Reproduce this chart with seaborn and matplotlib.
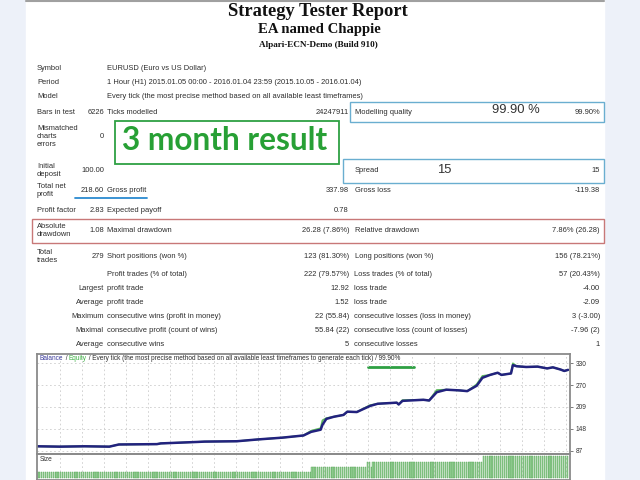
import numpy as np
import pandas as pd
import seaborn as sns
import matplotlib.pyplot as plt
from matplotlib.patches import Rectangle

# balance curve (trade number vs balance)
trade_no = [0, 12, 25, 38, 43, 63, 65, 84, 88, 105, 116, 129, 140, 144, 149, 150,
            152, 156, 161, 163, 168, 175, 179, 189, 190, 192, 203, 206, 210, 215,
            222, 226, 229, 231, 234, 238, 242, 244, 249, 250, 252, 257, 263, 268,
            271, 275, 277, 279]
balance = [100, 99, 100, 99, 105, 106, 108, 112, 113, 114, 119, 124, 130, 140, 146, 160,
           176, 182, 187, 196, 195, 212, 218, 221, 216, 226, 229, 227, 250, 257,
           255, 253, 262, 268, 290, 298, 304, 298, 302, 325, 322, 320, 321, 316,
           319, 313, 309, 312]
# equity runs on top of balance, with small spikes at the jumps
equity = [100, 99, 100, 99, 105, 106, 108, 112, 113, 114, 119, 124, 130, 143, 150, 172,
          178, 182, 187, 196, 195, 214, 218, 221, 216, 228, 229, 227, 256, 257,
          255, 253, 264, 272, 295, 298, 304, 298, 302, 330, 322, 320, 321, 316,
          319, 313, 309, 312]

# lot size per trade (segments)
lot_levels = [0.01, 0.02, 0.03, 0.02, 0.03, 0.04]
lot_counts = [144, 29, 2, 1, 58, 45]

balance_ticks = [87, 148, 209, 270, 330]

# report table
info_rows = [
    ("Symbol", "EURUSD (Euro vs US Dollar)", 69),
    ("Period", "1 Hour (H1) 2015.01.05 00:00 - 2016.01.04 23:59 (2015.10.05 - 2016.01.04)", 83),
    ("Model", "Every tick (the most precise method based on all available least timeframes)", 97),
]
stat_rows = [
    # label, value, name, value, name, value, y
    ("Bars in test", "6226", "Ticks modelled", "24247911", "Modelling quality", "99.90%", 112),
    ("Mismatched\ncharts\nerrors", "0", "", "", "", "", 136),
    ("Initial\ndeposit", "100.00", "", "", "Spread", "15", 170),
    ("Total net\nprofit", "218.60", "Gross profit", "337.98", "Gross loss", "-119.38", 191),
    ("Profit factor", "2.83", "Expected payoff", "0.78", "", "", 211),
    ("Absolute\ndrawdown", "1.08", "Maximal drawdown", "26.28 (7.86%)", "Relative drawdown", "7.86% (26.28)", 231),
    ("Total\ntrades", "279", "Short positions (won %)", "123 (81.30%)", "Long positions (won %)", "156 (78.21%)", 256),
]
trade_rows = [
    ("", "Profit trades (% of total)", "222 (79.57%)", "Loss trades (% of total)", "57 (20.43%)", 274),
    ("Largest", "profit trade", "12.92", "loss trade", "-4.00", 288),
    ("Average", "profit trade", "1.52", "loss trade", "-2.09", 302),
    ("Maximum", "consecutive wins (profit in money)", "22 (55.84)", "consecutive losses (loss in money)", "3 (-3.00)", 316),
    ("Maximal", "consecutive profit (count of wins)", "55.84 (22)", "consecutive loss (count of losses)", "-7.96 (2)", 330),
    ("Average", "consecutive wins", "5", "consecutive losses", "1", 344),
]

sns.set_theme(style="white")
plt.rcParams['font.family'] = ['Liberation Sans', 'DejaVu Sans']

W, H = 640, 480
fig = plt.figure(figsize=(6.4, 4.8), dpi=100)
fig.patch.set_facecolor('#edf1f9')

bg = fig.add_axes([0, 0, 1, 1])
bg.set_xlim(0, W)
bg.set_ylim(H, 0)
bg.axis('off')
bg.add_patch(Rectangle((26, 0), 578, H, color='white', zorder=0))
bg.plot([26, 604], [0.8, 0.8], color='#a0a0a0', lw=1.5)

txt = '#2c2c2c'
fs = 5.4

# titles
bg.text(318, 12, "Strategy Tester Report", ha='center', va='center', fontsize=13.3,
        fontweight='bold', family='Liberation Serif', color='#111')
bg.text(319, 30, "EA named Chappie", ha='center', va='center', fontsize=10.6,
        fontweight='bold', family='Liberation Serif', color='#111')
bg.text(318, 45, "Alpari-ECN-Demo (Build 910)", ha='center', va='center', fontsize=6.6,
        fontweight='bold', family='Liberation Serif', color='#111')

for lab, val, y in info_rows:
    bg.text(37, y, lab, ha='left', va='center', fontsize=fs, color=txt)
    bg.text(107, y, val, ha='left', va='center', fontsize=fs, color=txt)

for lab, v1, n2, v2, n3, v3, y in stat_rows:
    bg.text(37, y, lab, ha='left', va='center', fontsize=fs, color=txt, linespacing=1.2)
    bg.text(104, y, v1, ha='right', va='center', fontsize=fs, color=txt)
    bg.text(107, y, n2, ha='left', va='center', fontsize=fs, color=txt)
    bg.text(349, y, v2, ha='right', va='center', fontsize=fs, color=txt)
    bg.text(355, y, n3, ha='left', va='center', fontsize=fs, color=txt)
    bg.text(600, y, v3, ha='right', va='center', fontsize=fs, color=txt)

for lab, n2, v2, n3, v3, y in trade_rows:
    bg.text(104, y, lab, ha='right', va='center', fontsize=fs, color=txt)
    bg.text(107, y, n2, ha='left', va='center', fontsize=fs, color=txt)
    bg.text(349, y, v2, ha='right', va='center', fontsize=fs, color=txt)
    bg.text(354, y, n3, ha='left', va='center', fontsize=fs, color=txt)
    bg.text(600, y, v3, ha='right', va='center', fontsize=fs, color=txt)

# annotation boxes
bg.add_patch(Rectangle((350, 102), 254, 20, fill=False, ec='#6aaed0', lw=1.0))
bg.add_patch(Rectangle((343, 159), 261, 24, fill=False, ec='#6aaed0', lw=1.0))
bg.add_patch(Rectangle((32, 219), 572, 24, fill=False, ec='#c87878', lw=1.0))
bg.add_patch(Rectangle((115, 121), 224, 43, fill=False, ec='#2ea043', lw=1.3))
bg.plot([75, 147], [197.5, 197.5], color='#2b8ad0', lw=1.3)
bg.text(225, 140, "3 month result", ha='center', va='center', fontsize=22.8,
        fontweight='bold', family='Lato', color='#27a035')
bg.text(492, 110, "99.90 %", ha='left', va='center', fontsize=9.4, color='#333')
bg.text(437, 170, "15", ha='left', va='center', fontsize=9.4, color='#333')

# chart: balance / equity
px = lambda l, t, r, b: [l / W, 1 - b / H, (r - l) / W, (b - t) / H]
ax = fig.add_axes(px(37, 354, 570, 453.5))
ax.set_facecolor('none')
curve = pd.DataFrame({'trade': trade_no, 'balance': balance, 'equity': equity})
sns.lineplot(data=curve, x='trade', y='equity', color='#5cb85c', lw=1.3, ax=ax)
sns.lineplot(data=curve, x='trade', y='balance', color='#22227e', lw=1.8, ax=ax)
ax.set_xlim(0, 280)
ax.set_ylim(80, 356)
ax.set_yticks(balance_ticks)
ax.set_yticklabels([str(t) for t in balance_ticks])
ax.yaxis.tick_right()
ax.tick_params(axis='y', labelsize=4.8, labelcolor='#333', length=2, width=0.6,
               color='#666', pad=2, right=True)
grid_x = np.arange(12.1, 279, 11.56)
ax.set_xticks(grid_x)
ax.tick_params(axis='x', length=0, labelbottom=False)
ax.set_xlabel('')
ax.set_ylabel('')
ax.grid(True, ls=(0, (2, 3)), color='#cccccc', lw=0.6)

# size panel
sx = fig.add_axes(px(37, 454, 570, 480))
sx.set_facecolor('none')
lots = np.repeat(lot_levels, lot_counts)
size = pd.DataFrame({'trade': np.arange(len(lots)) + 0.5, 'lots': lots})
sns.barplot(data=size, x='trade', y='lots', native_scale=True, errorbar=None,
            color='#9ad29a', edgecolor='#55a555', linewidth=0.3, width=0.6,
            saturation=1, ax=sx)
sx.set_xlim(0, 280)
sx.set_ylim(-0.00476, 0.04476)
sx.set_xticks(grid_x)
sx.set_yticks([])
sx.tick_params(axis='x', length=0, labelbottom=False)
sx.set_xlabel('')
sx.set_ylabel('')
sx.grid(True, axis='x', ls=(0, (2, 3)), color='#cccccc', lw=0.6)
sx.set_axisbelow(True)
sx.text(0.006, 0.78, "Size", transform=sx.transAxes, fontsize=4.8, color='#333',
        va='center')

for a in (ax, sx):
    for s in a.spines.values():
        s.set_color('#8a8a8a')
        s.set_linewidth(1.3)

# header inside the chart, coloured pieces placed one after another
fig.canvas.draw()
renderer = fig.canvas.get_renderer()
pieces = [("Balance", '#3a3a9a'), (" / ", txt), ("Equity", '#3cb043'),
          (" / Every tick (the most precise method based on all available least "
           "timeframes to generate each tick) / 99.90%", txt)]
x0 = 40
for s, c in pieces:
    t = fig.text(x0 / W, 1 - 358.5 / H, s, ha='left', va='center', fontsize=4.7,
                 color=c, zorder=5)
    bb = t.get_window_extent(renderer)
    x0 += bb.width
bg.plot([368, 414], [367, 367], color='#2ea043', lw=2, zorder=5)

fig.savefig('out.png', dpi=100, facecolor=fig.get_facecolor())
